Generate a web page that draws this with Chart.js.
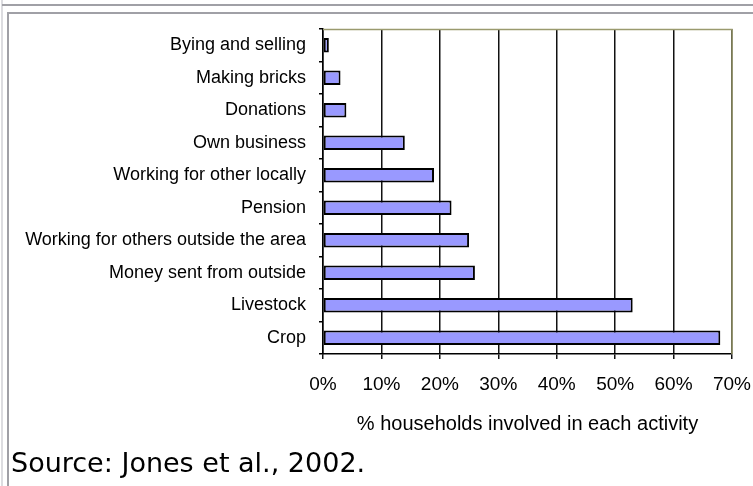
<!DOCTYPE html>
<html>
<head>
<meta charset="utf-8">
<script src="https://cdn.jsdelivr.net/npm/chart.js@4/dist/chart.umd.min.js"></script>
<style>
  html, body { margin: 0; padding: 0; background: #fff; }
  body { width: 753px; height: 486px; position: relative; overflow: hidden; }
  #outerLeft { position: absolute; left: 1px; top: 0; width: 2px; height: 486px; background: #dcdce0; }
  #outerTop { position: absolute; left: 2px; top: 4px; width: 751px; height: 2px; background: #a0a0a6; }
  #innerLeft { position: absolute; left: 7px; top: 12px; width: 2px; height: 474px; background: #a0a0a6; }
  #innerTop { position: absolute; left: 7px; top: 12px; width: 746px; height: 2px; background: #a0a0a6; }
  #chart { position: absolute; left: 0; top: 0; }
  #source { position: absolute; left: 11px; top: 447px; font-family: "DejaVu Sans", sans-serif; font-size: 27px; color: #000; white-space: nowrap; }
</style>
</head>
<body>
<div id="outerLeft"></div>
<div id="outerTop"></div>
<div id="innerLeft"></div>
<div id="innerTop"></div>
<canvas id="chart" width="753" height="486"></canvas>
<div id="source">Source: Jones et al., 2002.</div>
<script>
const categories = [
  "Bying and selling",
  "Making bricks",
  "Donations",
  "Own business",
  "Working for other locally",
  "Pension",
  "Working for others outside the area",
  "Money sent from outside",
  "Livestock",
  "Crop"
];
const percentHouseholds = [1, 3, 4, 14, 19, 22, 25, 26, 53, 68];
const xTickValues = [0, 10, 20, 30, 40, 50, 60, 70];
const xAxisTitle = "% households involved in each activity";

const plotBorder = {
  id: 'plotBorder',
  afterDraw(chart) {
    const a = chart.chartArea;
    const ctx = chart.ctx;
    ctx.save();
    ctx.strokeStyle = '#9a9a6e';
    ctx.lineWidth = 1.5;
    ctx.beginPath();
    ctx.moveTo(a.left, a.top + 0.5);
    ctx.lineTo(a.right, a.top + 0.5);
    ctx.lineTo(a.right, a.bottom);
    ctx.stroke();
    ctx.restore();
  }
};

new Chart(document.getElementById('chart'), {
  type: 'bar',
  data: {
    labels: categories,
    datasets: [{
      data: percentHouseholds,
      backgroundColor: '#9999ff',
      borderColor: '#000',
      borderWidth: 2,
      borderSkipped: false,
      barPercentage: 0.45,
      categoryPercentage: 1
    }]
  },
  options: {
    indexAxis: 'y',
    responsive: false,
    animation: false,
    layout: { padding: { left: 0, top: 29, right: 21, bottom: 42 } },
    plugins: { legend: { display: false }, tooltip: { enabled: false } },
    scales: {
      x: {
        min: 0, max: 70,
        afterBuildTicks(scale) { scale.ticks = xTickValues.map(v => ({ value: v })); },
        afterFit(scale) { scale.height = 90; scale.paddingLeft = 0; scale.paddingRight = 0; },
        ticks: {
          callback: v => v + '%',
          color: '#000',
          padding: 14,
          maxRotation: 0,
          font: { family: 'Liberation Sans', size: 19 }
        },
        grid: { color: '#111', lineWidth: 1.5, tickLength: 5 },
        border: { display: true, color: '#000', width: 1.5 },
        title: {
          display: true,
          text: xAxisTitle,
          color: '#000',
          font: { family: 'Liberation Sans', size: 20 },
          padding: { top: 0, bottom: 8 }
        }
      },
      y: {
        afterFit(scale) { scale.width = 323; },
        ticks: {
          color: '#000',
          padding: 13,
          font: { family: 'Liberation Sans', size: 18 }
        },
        grid: { offset: true, drawOnChartArea: false, color: '#000', lineWidth: 1.5, tickLength: 4 },
        border: { display: true, color: '#000', width: 1.5 }
      }
    }
  },
  plugins: [plotBorder]
});
</script>
</body>
</html>
